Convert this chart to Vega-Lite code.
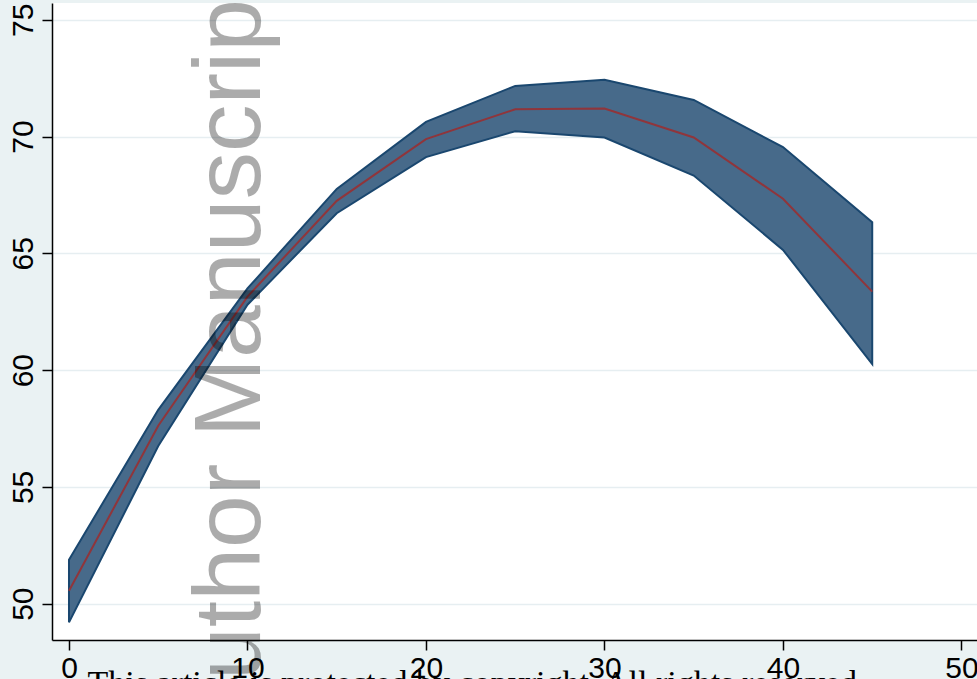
{
  "$schema": "https://vega.github.io/schema/vega-lite/v6.json",
  "width": 925,
  "height": 637,
  "autosize": {"type": "none"},
  "padding": {"left": 52, "top": 3, "right": 0, "bottom": 39},
  "background": "#eaf2f3",
  "config": {
    "view": {"fill": "white", "stroke": null},
    "axis": {
      "labelFont": "Liberation Sans Narrow, Arial Narrow, Liberation Sans, sans-serif",
      "labelFontSize": 30,
      "labelColor": "black",
      "domainColor": "black",
      "domainWidth": 1.5,
      "tickColor": "black",
      "tickWidth": 1.5,
      "tickSize": 10,
      "gridColor": "#e6eef1",
      "gridWidth": 1.5,
      "title": null
    }
  },
  "datasets": {
    "ci": [
      {"x": 0, "lo": 49.2, "mid": 50.55, "hi": 51.88},
      {"x": 5, "lo": 56.75, "mid": 57.62, "hi": 58.3},
      {"x": 10, "lo": 62.8, "mid": 63.15, "hi": 63.5},
      {"x": 15, "lo": 66.72, "mid": 67.25, "hi": 67.76},
      {"x": 20, "lo": 69.12, "mid": 69.89, "hi": 70.63},
      {"x": 25, "lo": 70.23, "mid": 71.17, "hi": 72.17},
      {"x": 30, "lo": 69.96, "mid": 71.2, "hi": 72.43},
      {"x": 35, "lo": 68.33, "mid": 69.96, "hi": 71.57},
      {"x": 40, "lo": 65.15, "mid": 67.34, "hi": 69.55},
      {"x": 45, "lo": 60.26, "mid": 63.36, "hi": 66.33}
    ],
    "watermark": [
      {"x": 10.7, "mid": 60.52, "label": "Author Manuscript"}
    ],
    "notice": [
      {"x": 1.04, "mid": 46.15, "label": "This article is protected by copyright. All rights reserved."}
    ]
  },
  "layer": [
    {
      "data": {"name": "ci"},
      "mark": {"type": "area", "fill": "#476a8a", "stroke": "#1a476f", "strokeWidth": 2, "strokeJoin": "miter"},
      "encoding": {
        "x": {
          "field": "x", "type": "quantitative",
          "scale": {"domain": [-0.952, 50.87], "nice": false, "zero": false},
          "axis": {"values": [0, 10, 20, 30, 40, 50], "grid": false, "labelAngle": 0, "labelPadding": 3, "labelBaseline": "top", "labelFlush": false}
        },
        "y": {
          "field": "lo", "type": "quantitative",
          "scale": {"domain": [48.445, 75.72], "nice": false, "zero": false},
          "axis": {"values": [50, 55, 60, 65, 70, 75], "grid": true, "labelAngle": 270, "labelPadding": 4, "labelFlush": false}
        },
        "y2": {"field": "hi"}
      }
    },
    {
      "data": {"name": "ci"},
      "mark": {"type": "line", "color": "#90353b", "strokeWidth": 2},
      "encoding": {
        "x": {"field": "x", "type": "quantitative"},
        "y": {"field": "mid", "type": "quantitative"}
      }
    },
    {
      "data": {"name": "watermark"},
      "mark": {"type": "text", "angle": 270, "align": "center", "baseline": "alphabetic", "font": "Liberation Sans, Arial, sans-serif", "fontSize": 95, "fill": "#000000", "fillOpacity": 0.33},
      "encoding": {
        "x": {"field": "x", "type": "quantitative"},
        "y": {"field": "mid", "type": "quantitative"},
        "text": {"field": "label"}
      }
    },
    {
      "data": {"name": "notice"},
      "mark": {"type": "text", "align": "left", "baseline": "alphabetic", "font": "Liberation Serif, Times New Roman, serif", "fontSize": 34, "fill": "black"},
      "encoding": {
        "x": {"field": "x", "type": "quantitative"},
        "y": {"field": "mid", "type": "quantitative"},
        "text": {"field": "label"}
      }
    }
  ]
}
